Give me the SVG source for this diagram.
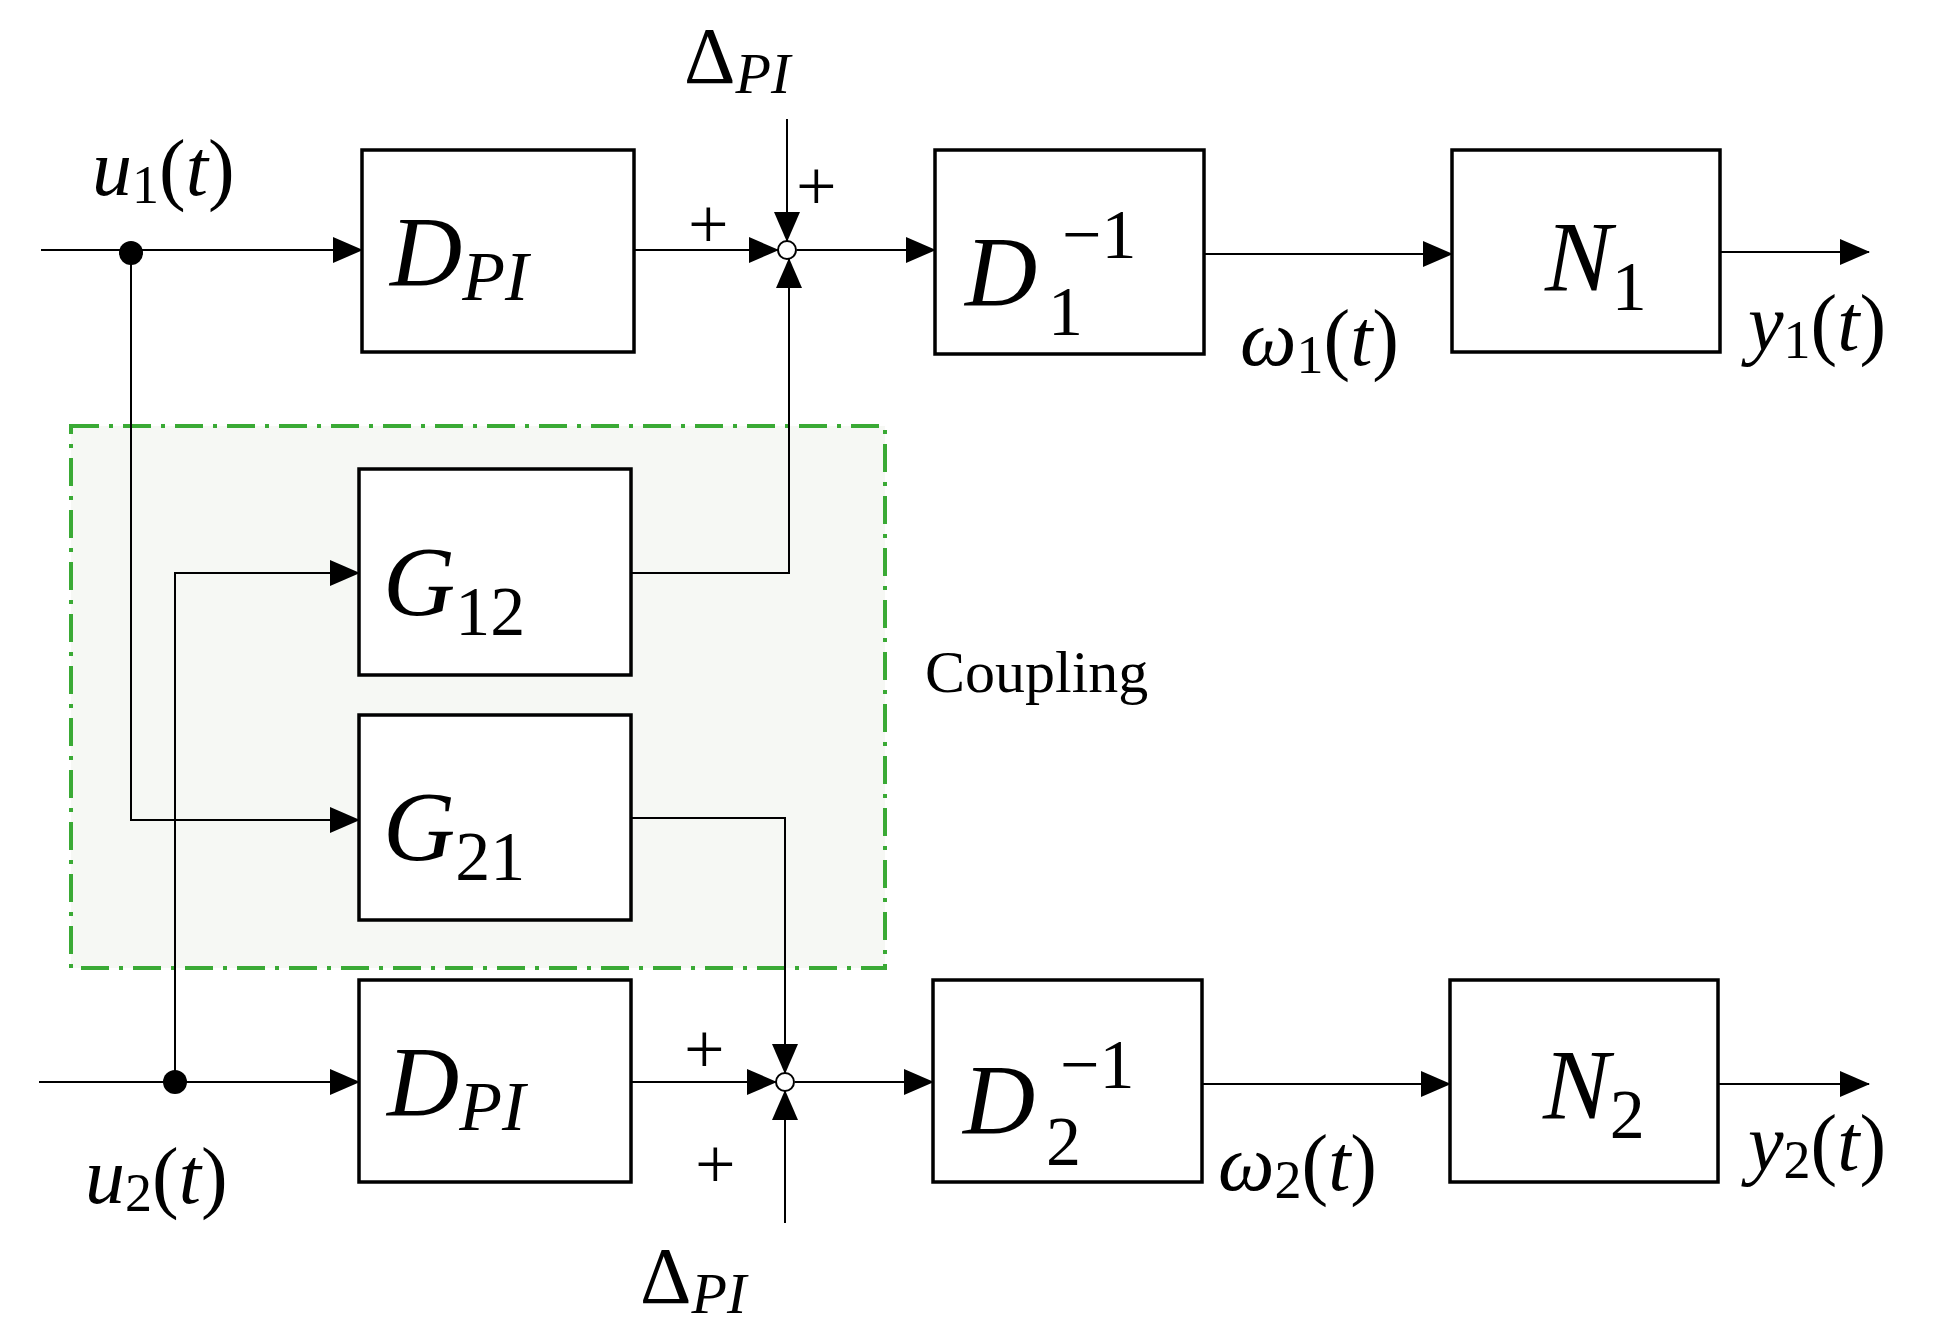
<svg xmlns="http://www.w3.org/2000/svg" width="1953" height="1339" viewBox="0 0 1953 1339">
<style>
.b{fill:#fff;stroke:#000;stroke-width:3.5}
.w{fill:none;stroke:#000;stroke-width:2}
.m{font-family:"Liberation Serif","DejaVu Serif",serif;font-style:italic}
.r{font-family:"Liberation Serif",serif}
</style>
<defs><marker id="a" markerWidth="30" markerHeight="26" refX="29" refY="13" orient="auto" markerUnits="userSpaceOnUse" viewBox="0 0 30 26"><path d="M0,0L30,13L0,26z"/></marker></defs>
<rect width="1953" height="1339" fill="#fff"/>
<g id="coupling"><rect x="71" y="426" width="814" height="542" fill="#f6f8f4" stroke="#3aaa35" stroke-width="4" stroke-dasharray="28,10,4,10"/>
<text class="r" x="925" y="692" font-size="60">Coupling</text></g>
<g id="connectors" class="w">
<line x1="41" y1="250" x2="362" y2="250" marker-end="url(#a)"/>
<line x1="634" y1="250" x2="778" y2="250" marker-end="url(#a)"/>
<line x1="797" y1="250" x2="935" y2="250" marker-end="url(#a)"/>
<line x1="1204" y1="254" x2="1452" y2="254" marker-end="url(#a)"/>
<line x1="1720" y1="252" x2="1869" y2="252" marker-end="url(#a)"/>
<line x1="787" y1="119" x2="787" y2="241" marker-end="url(#a)"/>
<polyline points="631,573 789,573 789,259" marker-end="url(#a)"/>
<polyline points="131,250 131,820 359,820" marker-end="url(#a)"/>
<polyline points="175,1082 175,573 359,573" marker-end="url(#a)"/>
<polyline points="631,818 785,818 785,1073" marker-end="url(#a)"/>
<line x1="39" y1="1082" x2="359" y2="1082" marker-end="url(#a)"/>
<line x1="631" y1="1082" x2="776" y2="1082" marker-end="url(#a)"/>
<line x1="795" y1="1082" x2="933" y2="1082" marker-end="url(#a)"/>
<line x1="1202" y1="1084" x2="1450" y2="1084" marker-end="url(#a)"/>
<line x1="1718" y1="1084" x2="1869" y2="1084" marker-end="url(#a)"/>
<line x1="785" y1="1223" x2="785" y2="1091" marker-end="url(#a)"/>
<circle cx="131" cy="253" r="12" fill="#000" stroke="none"/>
<circle cx="175" cy="1082" r="12" fill="#000" stroke="none"/>
</g>
<g id="sum1"><circle cx="787" cy="250" r="9" fill="#fff" stroke="#000" stroke-width="2"/></g>
<g id="sum2"><circle cx="785" cy="1082" r="9" fill="#fff" stroke="#000" stroke-width="2"/></g>
<g id="dpi1"><rect class="b" x="362" y="150" width="272" height="202"/><text class="m" x="390" y="285" font-size="100">D<tspan font-size="70" dy="15">PI</tspan></text></g>
<g id="d1"><rect class="b" x="935" y="150" width="269" height="204"/><text class="m" x="965" y="305" font-size="100">D</text><text class="r" x="1048" y="335" font-size="70">1</text><text class="r" x="1062" y="258" font-size="70">−1</text></g>
<g id="n1"><rect class="b" x="1452" y="150" width="268" height="202"/><text class="m" x="1545" y="290" font-size="100">N<tspan class="r" font-style="normal" font-size="70" dy="20">1</tspan></text></g>
<g id="g12"><rect class="b" x="359" y="469" width="272" height="206"/><text class="m" x="383" y="615" font-size="100">G<tspan font-style="normal" font-size="70" dy="20">12</tspan></text></g>
<g id="g21"><rect class="b" x="359" y="715" width="272" height="205"/><text class="m" x="383" y="860" font-size="100">G<tspan font-style="normal" font-size="70" dy="20">21</tspan></text></g>
<g id="dpi2"><rect class="b" x="359" y="980" width="272" height="202"/><text class="m" x="387" y="1115" font-size="100">D<tspan font-size="70" dy="15">PI</tspan></text></g>
<g id="d2"><rect class="b" x="933" y="980" width="269" height="202"/><text class="m" x="963" y="1133" font-size="100">D</text><text class="r" x="1046" y="1165" font-size="70">2</text><text class="r" x="1060" y="1088" font-size="70">−1</text></g>
<g id="n2"><rect class="b" x="1450" y="980" width="268" height="202"/><text class="m" x="1543" y="1118" font-size="100">N<tspan class="r" font-style="normal" font-size="70" dy="20">2</tspan></text></g>
<g id="labels" font-size="80">
<text class="m" x="92" y="195">u<tspan font-style="normal" font-size="54" dy="8">1</tspan><tspan font-style="normal" dy="-8">(</tspan>t<tspan font-style="normal">)</tspan></text>
<text class="m" x="85" y="1203">u<tspan font-style="normal" font-size="54" dy="8">2</tspan><tspan font-style="normal" dy="-8">(</tspan>t<tspan font-style="normal">)</tspan></text>
<text class="m" x="1240" y="365">ω<tspan font-style="normal" font-size="54" dy="8">1</tspan><tspan font-style="normal" dy="-8">(</tspan>t<tspan font-style="normal">)</tspan></text>
<text class="m" x="1218" y="1190">ω<tspan font-style="normal" font-size="54" dy="8">2</tspan><tspan font-style="normal" dy="-8">(</tspan>t<tspan font-style="normal">)</tspan></text>
<text class="m" x="1748" y="350">y<tspan font-style="normal" font-size="54" dy="8">1</tspan><tspan font-style="normal" dy="-8">(</tspan>t<tspan font-style="normal">)</tspan></text>
<text class="m" x="1748" y="1170">y<tspan font-style="normal" font-size="54" dy="8">2</tspan><tspan font-style="normal" dy="-8">(</tspan>t<tspan font-style="normal">)</tspan></text>
<text class="r" x="684" y="83" font-size="80">Δ<tspan class="m" font-size="58" dy="10">PI</tspan></text>
<text class="r" x="640" y="1303" font-size="80">Δ<tspan class="m" font-size="58" dy="10">PI</tspan></text>
<text class="r" x="796" y="210" font-size="72">+</text>
<text class="r" x="688" y="248" font-size="72">+</text>
<text class="r" x="684" y="1073" font-size="72">+</text>
<text class="r" x="695" y="1188" font-size="72">+</text>
</g>
</svg>
